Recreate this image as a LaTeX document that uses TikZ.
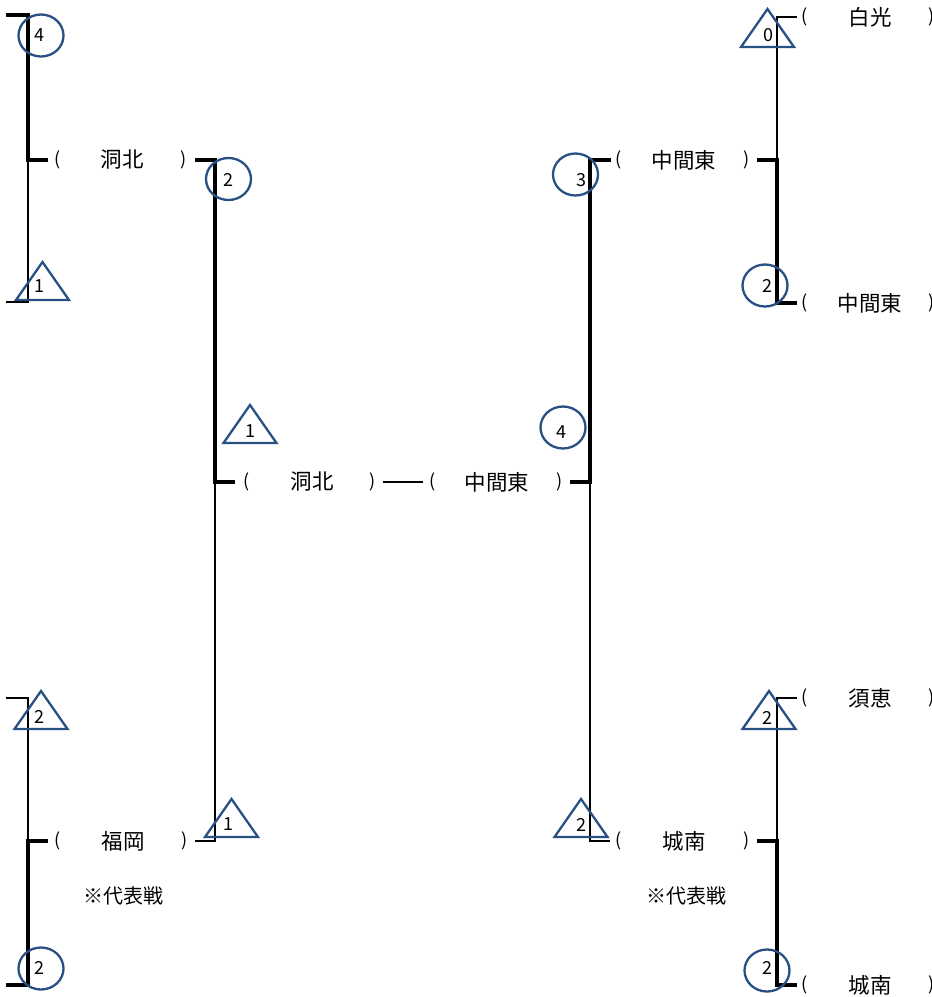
\documentclass[tikz,border=0pt]{standalone}
\usepackage{fontspec}
\newfontfamily\cjk{Noto Sans CJK JP}
\usetikzlibrary{shapes.geometric}
\definecolor{mk}{RGB}{41,80,130}
\newcommand\mytri[3]{%
  \coordinate (#1) at (#2,#3);
  \draw[mkline] (#1) ++(-26.5,0) -- ++(53,0) -- ++(-26.5,-38) -- cycle;}
\begin{document}
\begin{tikzpicture}[x=1pt,y=-1pt,
  thk/.style={line width=4.5pt},
  thn/.style={line width=1.5pt},
  mkline/.style={draw=mk,line width=2.3pt,line join=miter},
  circmark/.style={mkline,ellipse,minimum width=45pt,minimum height=42pt,inner sep=0pt},
  dig/.style={font=\cjk\fontsize{18}{18}\selectfont,inner sep=0pt},
  lbl/.style={font=\cjk\fontsize{21.5}{21.5}\selectfont,inner sep=0pt},
  par/.style={font=\cjk\fontsize{18}{18}\selectfont,inner sep=0pt},
  note/.style={font=\cjk\fontsize{20}{20}\selectfont,inner sep=0pt}]
\useasboundingbox[fill=white] (0,0) rectangle (932,997);

% ---------- coordinates of bracket corners ----------
\coordinate (a1) at (6,15);   \coordinate (a2) at (28,15);
\coordinate (a3) at (28,160); \coordinate (a4) at (48,160);
\coordinate (a5) at (28,302); \coordinate (a6) at (6,302);

\coordinate (b1) at (195,160); \coordinate (b2) at (215,160);
\coordinate (b3) at (215,482); \coordinate (b4) at (235,482);
\coordinate (b5) at (215,841); \coordinate (b6) at (195,841);

\coordinate (m1) at (383,482); \coordinate (m2) at (423,482);

\coordinate (c1) at (570,482); \coordinate (c2) at (590,482);
\coordinate (c3) at (590,160); \coordinate (c4) at (611,160);
\coordinate (c5) at (590,841); \coordinate (c6) at (610,841);

\coordinate (d1) at (797,17);  \coordinate (d2) at (777,17);
\coordinate (d3) at (777,160); \coordinate (d4) at (757,160);
\coordinate (d5) at (777,303); \coordinate (d6) at (797,303);

\coordinate (e1) at (6,698);   \coordinate (e2) at (28,698);
\coordinate (e3) at (28,841);  \coordinate (e4) at (48,841);
\coordinate (e5) at (28,985);  \coordinate (e6) at (6,985);

\coordinate (g1) at (797,698); \coordinate (g2) at (777,698);
\coordinate (g3) at (777,841); \coordinate (g4) at (757,841);
\coordinate (g5) at (777,985); \coordinate (g6) at (797,985);

% ---------- bracket lines ----------
\draw[thk] (a1) -- (a2) -- (a3) -- (a4);
\draw[thn] (a3) -- (a5) -- (a6);

\draw[thk] (b1) -- (b2) -- (b3) -- (b4);
\draw[thn] (b3) -- (b5) -- (b6);

\draw[thn] (m1) -- (m2);

\draw[thk] (c1) -- (c2) -- (c3) -- (c4);
\draw[thn] (c2) -- (c5) -- (c6);

\draw[thn] (d1) -- (d2) -- (d3);
\draw[thk] (d4) -- (d3) -- (d5) -- (d6);

\draw[thn] (e1) -- (e2) -- (e3);
\draw[thk] (e4) -- (e3) -- (e5) -- (e6);

\draw[thn] (g1) -- (g2) -- (g3);
\draw[thk] (g4) -- (g3) -- (g5) -- (g6);

% ---------- circles ----------
\node[circmark] (o1) at (41,35.5) {};
\node[circmark] (o2) at (228.5,179) {};
\node[circmark] (o3) at (575.5,174.5) {};
\node[circmark] (o4) at (765,285.5) {};
\node[circmark] (o5) at (563,427.5) {};
\node[circmark] (o6) at (41,968.5) {};
\node[circmark] (o7) at (767,970.5) {};

% ---------- triangles ----------
\mytri{t1}{42.5}{300}
\mytri{t2}{250}{443}
\mytri{t3}{231.5}{837}
\mytri{t4}{41}{729}
\mytri{t5}{767.5}{47}
\mytri{t6}{769}{729}
\mytri{t7}{581}{837}

% ---------- digits ----------
\node[dig] (n1) at (39,35) {4};
\node[dig] (n2) at (228,180) {2};
\node[dig] (n3) at (581,180) {3};
\node[dig] (n4) at (767,286) {2};
\node[dig] (n5) at (561,432) {4};
\node[dig] (n6) at (39,968) {2};
\node[dig] (n7) at (767,968) {2};
\node[dig] (n8) at (39,286) {1};
\node[dig] (n9) at (250,431) {1};
\node[dig] (n10) at (228,824) {1};
\node[dig] (n11) at (39,717) {2};
\node[dig] (n12) at (768,35) {0};
\node[dig] (n13) at (767,718) {2};
\node[dig] (n14) at (581,825) {2};

% ---------- team labels ----------
\node[par] (p1o) at (58,160) {(};  \node[lbl] (l1) at (122,160) {洞北};  \node[par] (p1c) at (184,160) {)};
\node[par] (p2o) at (247,482) {(}; \node[lbl] (l2) at (312,482) {洞北};  \node[par] (p2c) at (373,482) {)};
\node[par] (p3o) at (433,482) {(}; \node[lbl] (l3) at (497,482) {中間東}; \node[par] (p3c) at (560,482) {)};
\node[par] (p4o) at (619,160) {(}; \node[lbl] (l4) at (684,160) {中間東}; \node[par] (p4c) at (747,160) {)};
\node[par] (p5o) at (805,17) {(};  \node[lbl] (l5) at (870,17) {白光};   \node[par] (p5c) at (932,17) {)};
\node[par] (p6o) at (805,303) {(}; \node[lbl] (l6) at (870,303) {中間東}; \node[par] (p6c) at (932,303) {)};
\node[par] (p7o) at (58,841) {(};  \node[lbl] (l7) at (123,841) {福岡};   \node[par] (p7c) at (185,841) {)};
\node[par] (p8o) at (619,841) {(}; \node[lbl] (l8) at (684,841) {城南};   \node[par] (p8c) at (747,841) {)};
\node[par] (p9o) at (805,698) {(}; \node[lbl] (l9) at (870,698) {須恵};   \node[par] (p9c) at (932,698) {)};
\node[par] (p10o) at (805,985) {(}; \node[lbl] (l10) at (870,985) {城南}; \node[par] (p10c) at (932,985) {)};

\node[note] (r1) at (123,896) {※代表戦};
\node[note] (r2) at (686,896) {※代表戦};
\end{tikzpicture}
\end{document}
